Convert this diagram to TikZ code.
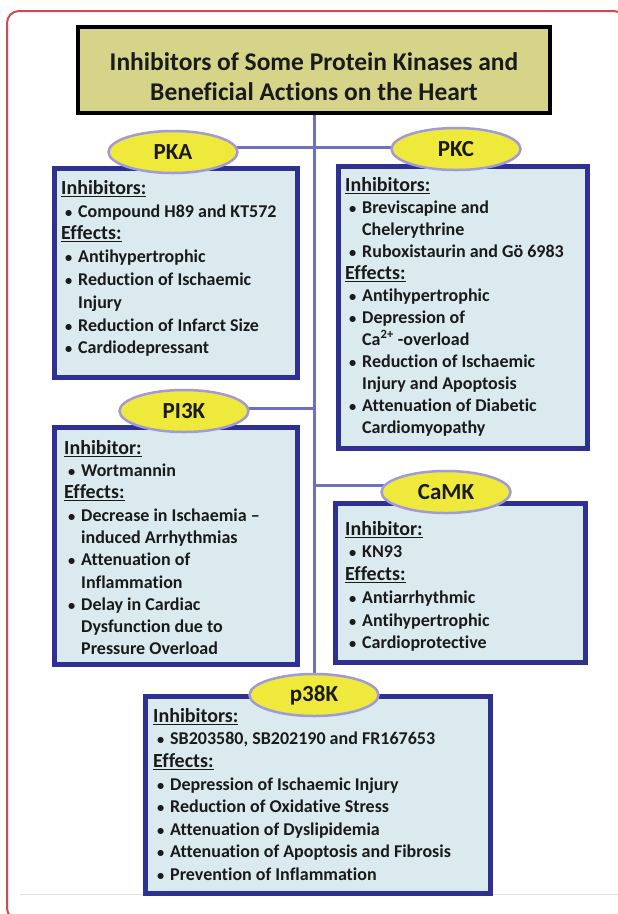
\documentclass[tikz,border=0pt]{standalone}
\usepackage{graphicx}
\usepackage{fontspec}
\setmainfont{Carlito}[Ligatures=NoCommon]
\usetikzlibrary{shapes.geometric,backgrounds}

\definecolor{framered}{RGB}{205,75,80}
\definecolor{titlefill}{RGB}{214,212,136}
\definecolor{boxblue}{RGB}{46,49,146}
\definecolor{boxfill}{RGB}{218,234,239}
\definecolor{ellfill}{RGB}{238,233,58}
\definecolor{elldraw}{RGB}{160,155,215}
\definecolor{linkblue}{RGB}{112,112,192}
\definecolor{inktext}{RGB}{26,26,26}

\newcommand{\bul}{\hspace*{4pt}\makebox[13pt][l]{\scalebox{0.8}{\textbullet}}}
\newcommand{\ind}{\hspace*{17pt}}
\newcommand{\head}[1]{{\fontsize{20}{22}\selectfont\underline{#1}}}

\begin{document}
\begin{tikzpicture}[x=1pt,y=-1pt,
    kinase/.style={ellipse, draw=elldraw, line width=2.5pt, fill=ellfill,
        minimum width=129pt, minimum height=42pt, inner sep=0pt, text=inktext,
        font=\fontsize{23}{27}\selectfont\bfseries},
    infobox/.style={rectangle, draw=boxblue, line width=4.5pt, fill=boxfill,
        anchor=north west, inner sep=0pt},
    infotext/.style={anchor=north west, align=left, inner sep=0pt, text=inktext,
        font=\fontsize{18}{22.3}\selectfont\bfseries},
    link/.style={draw=linkblue, line width=3pt}]
            \useasboundingbox (0,0) rectangle (618,914);

            % Frame
            \draw[framered, line width=2pt, rounded corners=12pt] (7,11) rectangle (626,920);
            \draw[black!12, line width=1pt] (20,894) -- (618,894);

            % Nodes
            \node[rectangle, draw=black, line width=4pt, fill=titlefill,
                minimum width=472pt, minimum height=86pt] (title) at (314,70) {};
            \node[align=center, text=inktext, font=\fontsize{25.5}{30}\selectfont\bfseries] (titletext) at (314,77)
                {Inhibitors of Some Protein Kinases and\\Beneficial Actions on the Heart};

            \node[infobox, minimum width=243pt, minimum height=209pt] (pkabox) at (52,166) {};
            \node[infobox, minimum width=249pt, minimum height=282pt] (pkcbox) at (336,164) {};
            \node[infobox, minimum width=243pt, minimum height=237pt] (pibox) at (52,425) {};
            \node[infobox, minimum width=250pt, minimum height=159pt] (camkbox) at (333,501) {};
            \node[infobox, minimum width=345pt, minimum height=197pt] (pbox) at (143,694) {};

            \node[kinase] (pka) at (173,152) {PKA};
            \node[kinase] (pkc) at (456,149) {PKC};
            \node[kinase] (pi3k) at (184,411) {PI3K};
            \node[kinase] (camk) at (446,492) {CaMK};
            \node[kinase] (p38k) at (314,695) {p38K};

            \node[infotext, font=\fontsize{18}{22.8}\selectfont\bfseries] (pkatext) at (61,180) {\head{Inhibitors:}\\
                \bul Compound H89 and KT572\\
                \head{Effects:}\\
                \bul Antihypertrophic\\
                \bul Reduction of Ischaemic\\
                \ind Injury\\
                \bul Reduction of Infarct Size\\
                \bul Cardiodepressant};
            \node[infotext, font=\fontsize{18}{22}\selectfont\bfseries] (pkctext) at (345,177) {\head{Inhibitors:}\\
                \bul Breviscapine and\\
                \ind Chelerythrine\\
                \bul Ruboxistaurin and Gö 6983\\
                \head{Effects:}\\
                \bul Antihypertrophic\\
                \bul Depression of\\
                \ind Ca\textsuperscript{2+} -overload\\
                \bul Reduction of Ischaemic\\
                \ind Injury and Apoptosis\\
                \bul Attenuation of Diabetic\\
                \ind Cardiomyopathy};
            \node[infotext] (pitext) at (64,440) {\head{Inhibitor:}\\
                \bul Wortmannin\\
                \head{Effects:}\\
                \bul Decrease in Ischaemia –\\
                \ind induced Arrhythmias\\
                \bul Attenuation of\\
                \ind Inflammation\\
                \bul Delay in Cardiac\\
                \ind Dysfunction due to\\
                \ind Pressure Overload};
            \node[infotext, font=\fontsize{18}{22.7}\selectfont\bfseries] (camktext) at (345,521) {\head{Inhibitor:}\\
                \bul KN93\\
                \head{Effects:}\\
                \bul Antiarrhythmic\\
                \bul Antihypertrophic\\
                \bul Cardioprotective};
            \node[infotext, font=\fontsize{18}{22.6}\selectfont\bfseries] (ptext) at (153,708) {\head{Inhibitors:}\\
                \bul SB203580, SB202190 and FR167653\\
                \head{Effects:}\\
                \bul Depression of Ischaemic Injury\\
                \bul Reduction of Oxidative Stress\\
                \bul Attenuation of Dyslipidemia\\
                \bul Attenuation of Apoptosis and Fibrosis\\
                \bul Prevention of Inflammation};

            % Edges
            \coordinate (j1) at (314,147);
            \coordinate (j2) at (314,408);
            \coordinate (j3) at (314,485);
            \begin{pgfonlayer}{background}
                \draw[link] (title.south) -- (p38k.north);
                \draw[link] (pka.center |- j1) -- (pkc.center |- j1);
                \draw[link] (pi3k.center |- j2) -- (j2);
                \draw[link] (j3) -- (camk.center |- j3);
            \end{pgfonlayer}
        \end{tikzpicture}
\end{document}
